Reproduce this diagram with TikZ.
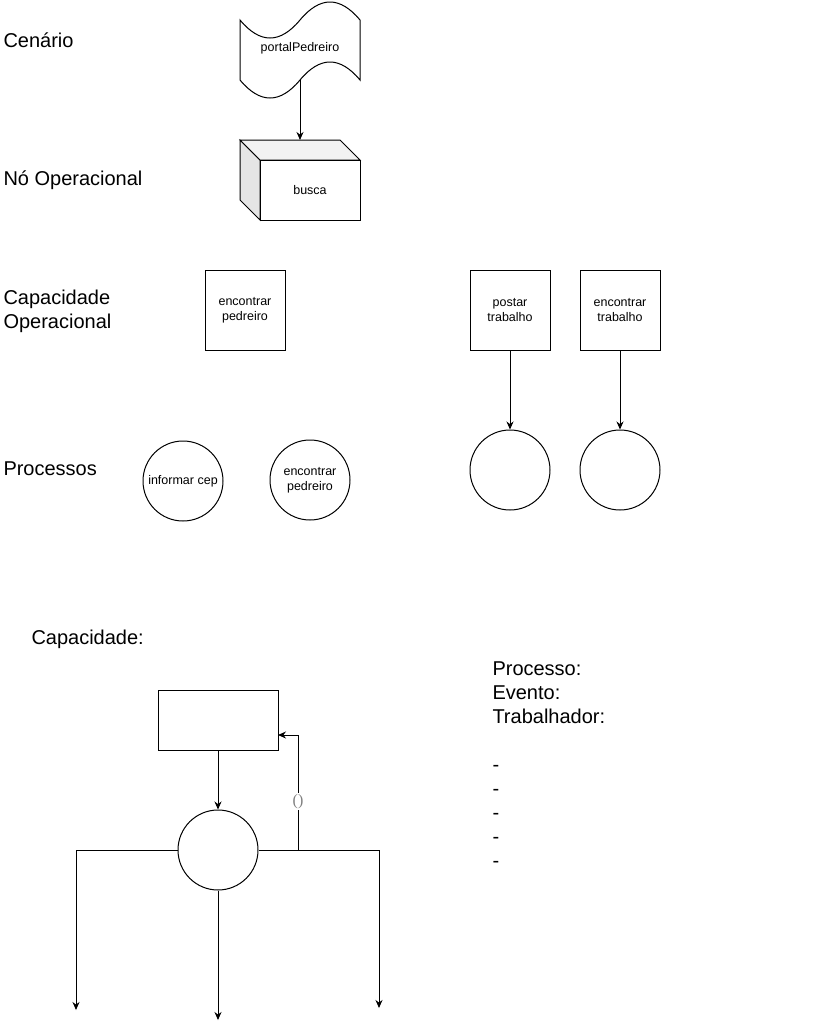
\documentclass[tikz,border=0pt]{standalone}
\usepackage{fontspec}
\setmainfont{Liberation Sans}
\newfontfamily\serifrm{Liberation Serif}
\usetikzlibrary{arrows.meta}

\begin{document}
\begin{tikzpicture}[x=1pt, y=-1pt, line width=1pt,
    arr/.style={-{Stealth[length=8pt,width=7pt]}},
    lbl/.style={anchor=west, inner sep=0pt, align=left, font=\fontsize{20}{24}\selectfont},
    opbox/.style={draw, minimum width=80pt, minimum height=80pt, inner sep=0pt, align=center, font=\fontsize{12.5}{15}\selectfont},
    proc/.style={draw, circle, minimum size=80pt, inner sep=0pt, align=center, font=\fontsize{12.5}{15}\selectfont}]
    \useasboundingbox (0,0) rectangle (825,1029);

    % row titles
    \node[lbl] (tcen) at (3,40) {Cenário};
    \node[lbl] (tno) at (3,180) {Nó Operacional};
    \node[lbl] (tcapop) at (3,311) {Capacidade\\Operacional};
    \node[lbl] (tproc) at (3,469) {Processos};

    % scenario (tape)
    \draw (240,20) .. controls (260,44) and (280,44) .. (300,20)
        .. controls (320,-4) and (340,-4) .. (360,20) -- (360,80)
        .. controls (340,56) and (320,56) .. (300,80)
        .. controls (280,104) and (260,104) .. (240,80) -- cycle;
    \node[font=\fontsize{12.5}{15}\selectfont] (portal) at (300,48) {portalPedreiro};
    \coordinate (portalbot) at (300,80);

    % operational node (cube)
    \draw[fill=gray!20] (240,140) -- (260,160) -- (260,220) -- (240,200) -- cycle;
    \draw[fill=gray!10] (240,140) -- (340,140) -- (360,160) -- (260,160) -- cycle;
    \node[draw, fill=white, minimum width=100pt, minimum height=60pt, inner sep=0pt, font=\fontsize{12.5}{15}\selectfont] (busca) at (310,190) {busca};
    \coordinate (buscatop) at (300,140);
    \draw[arr] (portalbot) -- (buscatop);

    % operational capabilities
    \node[opbox] (encped) at (245,310) {encontrar\\pedreiro};
    \node[opbox] (postar) at (510,310) {postar\\trabalho};
    \node[opbox] (enctrab) at (620,310) {encontrar\\trabalho};

    % processes
    \node[proc] (pcep) at (183,481) {informar cep};
    \node[proc] (pped) at (310,480) {encontrar\\pedreiro};
    \node[proc] (ppost) at (510,470) {};
    \node[proc] (ptrab) at (620,470) {};
    \draw[arr] (postar) -- (ppost);
    \draw[arr] (enctrab) -- (ptrab);

    % capability template
    \node[lbl] (tcap) at (31,639) {Capacidade:};
    \node[lbl] (tlist) at (492,765) {Processo:\\Evento:\\Trabalhador:\\[24pt]-\\-\\-\\-\\-};
    \node[draw, minimum width=120pt, minimum height=60pt, inner sep=0pt] (cap) at (218,720) {};
    \node[proc] (capproc) at (218,850) {};
    \coordinate (outL) at (76,1010);
    \coordinate (outM) at (218,1020);
    \coordinate (outR) at (379,1008);
    \coordinate (fb) at (298,850);
    \coordinate (capin) at (278,735);
    \draw[arr] (cap) -- (capproc);
    \draw[arr] (capproc.west) -| (outL);
    \draw[arr] (capproc.east) -| (outR);
    \draw[arr] (capproc.south) -- (outM);
    \draw[arr] (fb) |- node[pos=0.21, fill=white, inner sep=1pt, text=gray, font=\serifrm\fontsize{16}{18}\selectfont] {()} (capin);
\end{tikzpicture}
\end{document}
